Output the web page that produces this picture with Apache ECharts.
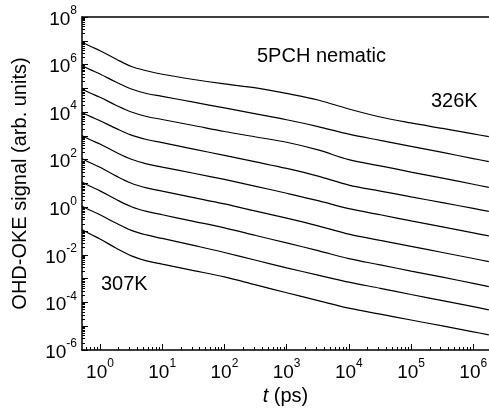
<!DOCTYPE html>
<html>
<head>
<meta charset="utf-8">
<script src="https://cdn.jsdelivr.net/npm/echarts@6.0.0/dist/echarts.min.js"></script>
<style>
  html, body { margin: 0; padding: 0; background: #fff; }
  #chart-oke { width: 489px; height: 412px; }
</style>
</head>
<body>
<div id="chart-oke"></div>
<script>
// 时间 (ps)
var tValues = [0.51, 0.71, 1, 1.8, 3.2, 5.6, 10, 32, 100, 320, 1000, 3200, 1e4, 3.2e4, 1e5, 3.2e5, 1e6, 1.78e6]

// 9 条曲线, 从上 (326K) 到下 (307K)
var signal1 = [8.9e6, 5.75e6, 3.84e6, 1.72e6, 8.3e5, 5.48e5, 3.91e5, 2.36e5, 1.53e5, 1.04e5, 6.1e4, 3.25e4, 1.36e4, 6.27e3, 3.51e3, 2.06e3, 1.21e3, 931]
var signal2 = [9.16e5, 5.98e5, 4.02e5, 1.85e5, 9.42e4, 6.1e4, 4.6e4, 2.62e4, 1.5e4, 8.45e3, 4.78e3, 2.48e3, 1.19e3, 650, 364, 202, 112, 82.8]
var signal3 = [9.42e4, 6.21e4, 4.22e4, 1.96e4, 1.01e4, 6.58e3, 4.92e3, 2.75e3, 1.54e3, 904, 542, 259, 101, 55.2, 30.3, 16.8, 9.29, 6.82]
var signal4 = [9.68e3, 6.46e3, 4.38e3, 2.08e3, 1.08e3, 710, 521, 281, 151, 80.5, 42.9, 20.4, 8.53, 4.82, 2.75, 1.57, 0.893, 0.668]
var signal5 = [1.04e3, 676, 455, 206, 104, 66.4, 49.1, 27.0, 14.8, 7.59, 3.89, 1.9, 0.877, 0.486, 0.269, 0.151, 0.0843, 0.0624]
var signal6 = [113, 72.3, 47.8, 20.9, 10.2, 6.5, 4.76, 2.56, 1.38, 0.689, 0.35, 0.166, 0.0743, 0.0408, 0.0228, 0.0126, 0.00702, 0.00519]
var signal7 = [11.6, 7.45, 4.91, 2.16, 1.05, 0.668, 0.486, 0.256, 0.136, 0.0649, 0.0317, 0.0151, 0.00693, 0.00378, 0.00207, 0.00115, 6.3e-4, 4.62e-4]
var signal8 = [1.14, 0.729, 0.486, 0.218, 0.107, 0.0687, 0.049, 0.0249, 0.0126, 0.00594, 0.00285, 0.00141, 7.14e-4, 3.92e-4, 2.15e-4, 1.19e-4, 6.61e-5, 4.84e-5]
var signal9 = [0.117, 0.0729, 0.0467, 0.0194, 0.00902, 0.00556, 0.00407, 0.00219, 0.00118, 5.45e-4, 2.56e-4, 1.2e-4, 5.77e-5, 3.23e-5, 1.82e-5, 1.03e-5, 5.82e-6, 4.31e-6]
var signals = [signal1, signal2, signal3, signal4, signal5, signal6, signal7, signal8, signal9]

// 刻度
var xLabelValues = [1, 10, 100, 1e3, 1e4, 1e5, 1e6]
var yLabelValues = [1e-6, 1e-4, 1e-2, 1, 1e2, 1e4, 1e6, 1e8]
var yTickValues = [1e-6, 1e-5, 1e-4, 1e-3, 1e-2, 1e-1, 1, 10, 100, 1e3, 1e4, 1e5, 1e6, 1e7, 1e8]

var xMin = 0.514, xMax = 1.79e6
var yMin = 1e-6, yMax = 1e8
var font = 'Liberation Sans, Arial, Helvetica, sans-serif'

// 次刻度 2..9
function minorTicks(lo, hi) {
    var out = []
    for (var e = -7; e <= 8; e++) {
        for (var k = 2; k <= 9; k++) {
            var v = k * Math.pow(10, e)
            if (v > lo && v < hi) out.push(v)
        }
    }
    return out
}

function powLabel(value) {
    var e = Math.round(Math.log10(value))
    return '{b|10}{s|' + e + '}'
}

var labelRich = {
    b: { fontSize: 19, fontFamily: font, color: '#000', padding: [5, 0, 0, 0] },
    s: { fontSize: 12, fontFamily: font, color: '#000', verticalAlign: 'top' }
}

var axisLineStyle = { color: '#000', width: 1.5 }

var option = {
    animation: false,
    grid: { left: 82, right: 0, top: 17, bottom: 62, outerBoundsMode: 'none' },
    xAxis: [{
        type: 'log', min: xMin, max: xMax, position: 'bottom',
        axisLine: { lineStyle: axisLineStyle },
        axisTick: { inside: true, length: 6, customValues: xLabelValues, lineStyle: { color: '#000', width: 1 } },
        axisLabel: { customValues: xLabelValues, formatter: powLabel, rich: labelRich, margin: 8 },
        splitLine: { show: false },
        name: '{i|t} (ps)', nameLocation: 'middle', nameGap: 36,
        nameTextStyle: {
            fontSize: 20, fontFamily: font, color: '#000',
            rich: { i: { fontSize: 20, fontFamily: font, fontStyle: 'italic', color: '#000' } }
        }
    }, {
        type: 'log', min: xMin, max: xMax, position: 'bottom',
        axisLine: { show: false },
        axisTick: { inside: true, length: 3, customValues: minorTicks(xMin, xMax), lineStyle: { color: '#000', width: 1 } },
        axisLabel: { show: false },
        splitLine: { show: false }
    }, {
        type: 'log', min: xMin, max: xMax, position: 'top',
        axisLine: { lineStyle: axisLineStyle },
        axisTick: { show: false },
        axisLabel: { show: false },
        splitLine: { show: false }
    }],
    yAxis: [{
        type: 'log', min: yMin, max: yMax, position: 'left',
        axisLine: { lineStyle: axisLineStyle },
        axisTick: { inside: true, length: 6, customValues: yTickValues, lineStyle: { color: '#000', width: 1 } },
        axisLabel: { customValues: yLabelValues, formatter: powLabel, rich: labelRich, margin: 5 },
        splitLine: { show: false },
        name: 'OHD-OKE signal (arb. units)', nameLocation: 'middle', nameGap: 52,
        nameTextStyle: { fontSize: 20, fontFamily: font, color: '#000' }
    }, {
        type: 'log', min: yMin, max: yMax, position: 'left',
        axisLine: { show: false },
        axisTick: { inside: true, length: 3, customValues: minorTicks(yMin, yMax), lineStyle: { color: '#000', width: 1 } },
        axisLabel: { show: false },
        splitLine: { show: false }
    }],
    graphic: [
        { type: 'text', left: 257, top: 46, style: { text: '5PCH nematic', font: '20px ' + font, fill: '#000' } },
        { type: 'text', left: 431, top: 91, style: { text: '326K', font: '20px ' + font, fill: '#000' } },
        { type: 'text', left: 101, top: 274, style: { text: '307K', font: '20px ' + font, fill: '#000' } }
    ],
    series: signals.map(function(s, idx) {
        return {
            name: 'curve' + (idx + 1),
            type: 'line',
            xAxisIndex: 0,
            yAxisIndex: 0,
            showSymbol: false,
            smooth: 0.35,
            lineStyle: { color: '#000', width: 1.2 },
            data: tValues.map(function(t, i) { return [t, s[i]] })
        }
    })
}

var chart = echarts.init(document.getElementById('chart-oke'))
chart.setOption(option)
window.addEventListener('resize', function() {
    chart.resize()
})
</script>
</body>
</html>
